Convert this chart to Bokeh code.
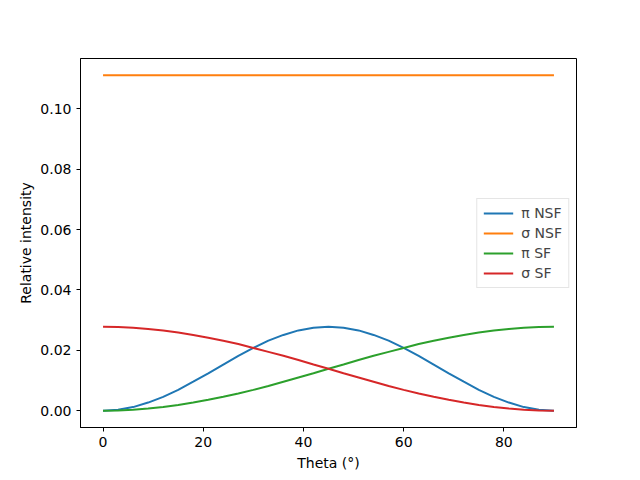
from bokeh.plotting import figure
from bokeh.models import Range1d, FixedTicker, NumeralTickFormatter, Legend, LegendItem
from bokeh.embed import file_html
from bokeh.resources import INLINE

theta = [0, 3, 6, 9, 12, 15, 18, 21, 24, 27, 30, 33, 36, 39, 42, 45,
         48, 51, 54, 57, 60, 63, 66, 69, 72, 75, 78, 81, 84, 87, 90]
pi_nsf = [0.0000, 0.0003, 0.0012, 0.0027, 0.0046, 0.0069, 0.0096, 0.0124, 0.0153, 0.0182,
          0.0208, 0.0232, 0.0251, 0.0266, 0.0275, 0.0278, 0.0275, 0.0266, 0.0251, 0.0232,
          0.0208, 0.0182, 0.0153, 0.0124, 0.0096, 0.0069, 0.0046, 0.0027, 0.0012, 0.0003, 0.0000]
sigma_nsf = [0.1111] * 31
pi_sf = [0.0000, 0.0001, 0.0003, 0.0007, 0.0012, 0.0019, 0.0027, 0.0036, 0.0046, 0.0057,
         0.0069, 0.0082, 0.0096, 0.0110, 0.0124, 0.0139, 0.0153, 0.0168, 0.0182, 0.0195,
         0.0208, 0.0221, 0.0232, 0.0242, 0.0251, 0.0259, 0.0266, 0.0271, 0.0275, 0.0277, 0.0278]
sigma_sf = [0.0278, 0.0277, 0.0275, 0.0271, 0.0266, 0.0259, 0.0251, 0.0242, 0.0232, 0.0221,
            0.0208, 0.0195, 0.0182, 0.0168, 0.0153, 0.0139, 0.0124, 0.0110, 0.0096, 0.0082,
            0.0069, 0.0057, 0.0046, 0.0036, 0.0027, 0.0019, 0.0012, 0.0007, 0.0003, 0.0001, 0.0000]
labels = ["π NSF", "σ NSF", "π SF", "σ SF"]
colors = ["#1f77b4", "#ff7f0e", "#2ca02c", "#d62728"]
x_ticks = [0, 20, 40, 60, 80]
y_ticks = [0.0, 0.02, 0.04, 0.06, 0.08, 0.10]

FONT = "DejaVu Sans"

p = figure(output_backend="svg", toolbar_location=None,
           frame_width=496, frame_height=369,
           min_border_left=80, min_border_right=64, min_border_top=58, min_border_bottom=53,
           x_range=Range1d(-4.5, 94.5), y_range=Range1d(-0.00556, 0.11667))
p.background_fill_color = "white"
p.border_fill_color = "white"
p.outline_line_color = "black"
p.outline_line_width = 1
p.xgrid.visible = False
p.ygrid.visible = False

items = []
for ys, lab, col in zip([pi_nsf, sigma_nsf, pi_sf, sigma_sf], labels, colors):
    r = p.line(theta, ys, line_color=col, line_width=2)
    items.append(LegendItem(label=lab, renderers=[r]))

legend = Legend(items=items, location="center_right")
legend.label_text_font = FONT
legend.label_text_font_size = "14px"
legend.glyph_width = 30
legend.glyph_height = 16
legend.label_height = 16
legend.label_standoff = 8
legend.spacing = 4
legend.padding = 6
legend.margin = 7
legend.border_line_color = "#cccccc"
legend.border_line_width = 1
legend.background_fill_alpha = 0.8
p.add_layout(legend)

for ax in (p.xaxis[0], p.yaxis[0]):
    ax.major_label_text_font = FONT
    ax.major_label_text_font_size = "14px"
    ax.axis_label_text_font = FONT
    ax.axis_label_text_font_size = "14px"
    ax.axis_label_text_font_style = "normal"
    ax.minor_tick_line_color = None
    ax.major_tick_in = 0
    ax.major_tick_out = 4
    ax.axis_line_color = "black"
    ax.major_tick_line_color = "black"
    ax.major_label_text_color = "black"
    ax.axis_label_text_color = "black"

p.xaxis.ticker = FixedTicker(ticks=x_ticks)
p.yaxis.ticker = FixedTicker(ticks=y_ticks)
p.yaxis.formatter = NumeralTickFormatter(format="0.00")
p.xaxis.axis_label = "Theta (°)"
p.yaxis.axis_label = "Relative intensity"
p.xaxis.axis_label_standoff = 5
p.yaxis.axis_label_standoff = 3

open("out.html", "w").write(file_html(p, INLINE))
